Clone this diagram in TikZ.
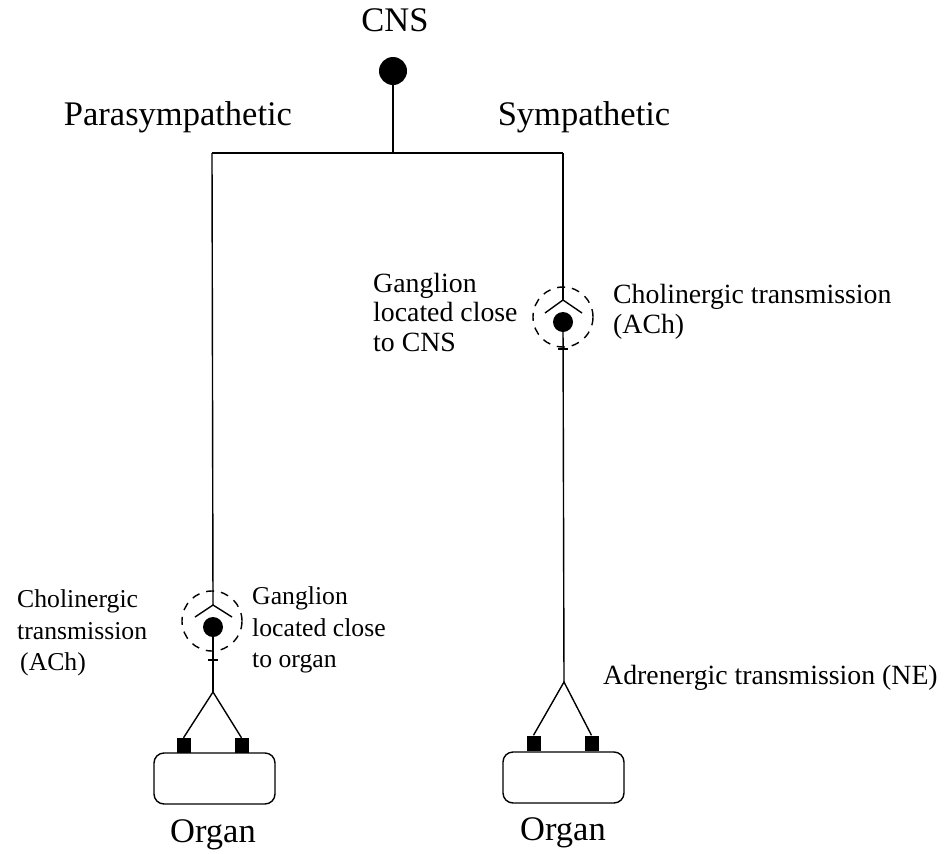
\documentclass[tikz,border=0pt]{standalone}
\usepackage{fontspec}
\setmainfont{Liberation Serif}
\usetikzlibrary{calc}
\begin{document}
\begin{tikzpicture}[x=1pt,y=-1pt,
  wire/.style={line width=1.4pt},
  soma/.style={circle,fill=black,inner sep=0pt,minimum size=#1},
  ring/.style={circle,draw,line width=1.4pt,dash pattern=on 8pt off 7pt,inner sep=0pt,minimum size=60pt},
  term/.style={fill=black,inner sep=0pt,minimum width=14pt,minimum height=15pt},
  organ/.style={draw,line width=1.4pt,rounded corners=10pt,inner sep=0pt,minimum width=121pt,minimum height=51pt},
  big/.style={inner sep=0pt,font=\fontsize{34.5}{40}\selectfont},
  note/.style={inner sep=0pt,align=left,anchor=west},
  noteL/.style={note,font=\fontsize{25.7}{31.5}\selectfont},
  noteR/.style={note,font=\fontsize{27.8}{29.5}\selectfont}]
\useasboundingbox (0,0) rectangle (948,854);

% central nervous system and the two outflows
\node[big] (cnslabel) at (395,20) {CNS};
\node[soma=28pt] (cns) at (393,71) {};
\coordinate (split) at (393,153);
\coordinate (pstart) at (212,153);
\coordinate (sstart) at (563,153);
\draw[wire] (cns) -- (split);
\draw[wire] (pstart) -- (sstart);
\node[big] (plabel) at (178,117) {Parasympathetic};
\node[big] (slabel) at (584,117) {Sympathetic};

% parasympathetic branch: ganglion near the organ
\node[soma=20pt] (pg) at (213,627) {};
\node[ring] (pring) at (212,621) {};
\coordinate (papex) at (213,605);
\draw[wire] (pstart) -- (papex);
\draw[wire] ($(papex)+(-18,12)$) -- (papex) -- ($(papex)+(19,12)$);
\coordinate (ptick) at (213,660);
\coordinate (pfork) at (213,692);
\draw[wire] (pg) -- (pfork);
\draw[wire] ($(ptick)+(-5,0)$) -- ($(ptick)+(5,0)$);
\node[organ] (porgan) at (214.5,778.5) {};
\node[term] (pt1) at (183.5,745.5) {};
\node[term] (pt2) at (241.5,745.5) {};
\draw[wire] (pt1.north) -- (pfork) -- (pt2.north);
\node[big] (porganlabel) at (213,835) {Organ};

\node[noteL] (pcho) at (17,633) {Cholinergic\\transmission\\\hspace{3pt}(ACh)};
\node[noteL] (pgang) at (252,630) {Ganglion\\located close\\to organ};

% sympathetic branch: ganglion near the CNS
\node[soma=20pt] (sg) at (563,322) {};
\node[ring] (sring) at (563,317) {};
\coordinate (sapex) at (563,300);
\draw[wire] (sstart) -- (sapex);
\draw[wire] ($(sapex)+(-18,13)$) -- (sapex) -- ($(sapex)+(19,13)$);
\coordinate (stick) at (563,349);
\coordinate (sfork) at (564,682);
\draw[wire] (sg) -- (sfork);
\draw[wire] ($(stick)+(-5,0)$) -- ($(stick)+(5,0)$);
\node[organ] (sorgan) at (563.5,777.5) {};
\node[term] (st1) at (533.5,743) {};
\node[term] (st2) at (591.5,743) {};
\draw[wire] (st1.north) -- (sfork) -- (st2.north);
\node[big] (sorganlabel) at (563,833) {Organ};

\node[noteR] (sgang) at (373,312) {Ganglion\\located close\\to CNS};
\node[noteR] (scho) at (613,312) {Cholinergic transmission\\(ACh)};
\node[noteR] (sadr) at (603,678) {Adrenergic transmission (NE)};
\end{tikzpicture}
\end{document}
